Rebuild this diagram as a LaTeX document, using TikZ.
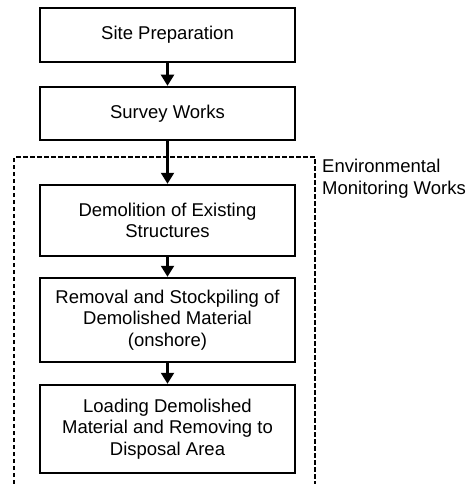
\documentclass[tikz,border=0pt]{standalone}
\usepackage{fontspec}
\setmainfont{Liberation Sans}
\usetikzlibrary{arrows.meta}
\begin{document}
\begin{tikzpicture}[x=1pt,y=-1pt,
  stepbox/.style={draw, line width=2.5pt, rectangle, minimum width=255pt,
    align=center, inner sep=0pt, font=\fontsize{18.5}{21.5}\selectfont},
  flow/.style={line width=2.2pt, -{Triangle[width=13pt,length=11pt]}},
  zone/.style={line width=2.6pt, dash pattern=on 4.5pt off 2.5pt},
  lbl/.style={anchor=north west, align=left, inner sep=0pt,
    font=\fontsize{18.5}{21.5}\selectfont}]
  \useasboundingbox (0,0) rectangle (469,484);

  \node[stepbox, minimum height=54pt] (site) at (167.5,35) {Site Preparation};
  \node[stepbox, minimum height=53pt] (survey) at (167.5,113.5) {Survey Works};
  \node[stepbox, minimum height=71pt] (demol) at (167.5,220.5) {Demolition of Existing\\Structures};
  \node[stepbox, minimum height=84pt] (stock) at (167.5,320) {Removal and Stockpiling of\\Demolished Material\\(onshore)};
  \node[stepbox, minimum height=88pt] (load) at (167.5,429) {Loading Demolished\\Material and Removing to\\Disposal Area};

  % monitoring zone, open at the bottom
  \coordinate (zbl) at (14,484);
  \coordinate (ztl) at (14,157);
  \coordinate (ztr) at (315,157);
  \coordinate (zbr) at (315,484);
  \draw[zone] (zbl) -- (ztl) -- (ztr) -- (zbr);
  \node[lbl] (env) at (322,159) {Environmental\\Monitoring Works};

  \draw[flow] (site) -- (survey);
  \draw[flow] (survey) -- (demol);
  \draw[flow] (demol) -- (stock);
  \draw[flow] (stock) -- (load);
\end{tikzpicture}
\end{document}
